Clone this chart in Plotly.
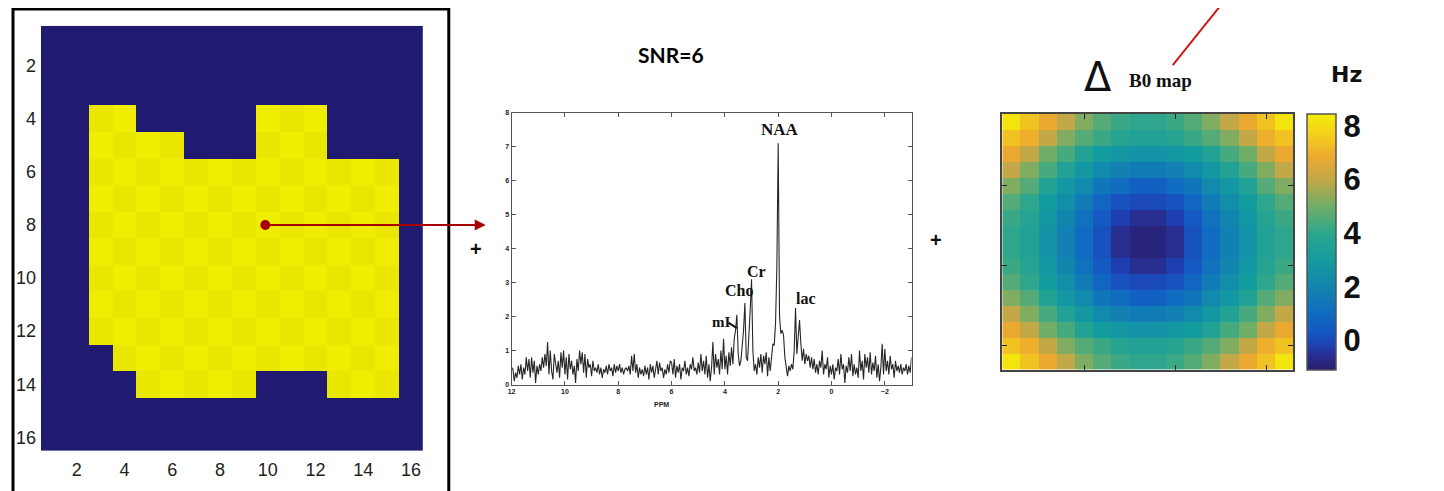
import numpy as np
import plotly.graph_objects as go

W, H = 1444, 491

# ---------------- Panel 1: voxel mask (16 x 16) ----------------
mask_rows = [
    "0000000000000000",
    "0000000000000000",
    "0000000000000000",
    "0011000001110000",
    "0011110001110000",
    "0011111111111110",
    "0011111111111110",
    "0011111111111110",
    "0011111111111110",
    "0011111111111110",
    "0011111111111110",
    "0011111111111110",
    "0001111111111110",
    "0000111110001110",
    "0000000000000000",
    "0000000000000000",
]
grid_ticks = [2, 4, 6, 8, 10, 12, 14, 16]
selected_voxel = (9.9, 8.0)   # (column, row)

# ---------------- Panel 2: spectrum (SNR = 6) ----------------
ppm_start, ppm_step = 12.0, -0.05
intensity = [
    # 12.00 .. 10.05
    0.5, 0.45, 0.1, 0.35, 0.2, 0.55, 0.3, 0.6, 0.15, 0.5,
    0.3, 0.8, 0.4, 0.75, 0.2, 0.8, 0.35, 0.7, 0.05, 0.55,
    0.3, 0.6, 0.4, 0.8, 0.5, 0.9, 0.55, 1.25, 0.3, 1.0,
    0.4, 0.15, 0.9, 0.6, 0.35, 0.7, 0.2, 0.95, 0.5, 1.0,
    # 10.00 .. 8.05
    0.3, 0.8, 0.15, 0.9, 0.45, 0.7, 0.3, 0.55, 0.05, 0.75,
    0.4, 1.0, 0.6, 0.95, 0.35, 0.9, 0.2, 0.75, 0.5, 0.6,
    0.25, 0.7, 0.4, 0.5, 0.35, 0.6, 0.3, 0.5, 0.2, 0.45,
    0.35, 0.55, 0.3, 0.6, 0.4, 0.5, 0.25, 0.6, 0.35, 0.55,
    # 8.00 .. 6.05
    0.4, 0.6, 0.35, 0.5, 0.3, 0.45, 0.5, 0.4, 0.55, 0.3,
    0.85, 0.4, 0.9, 0.35, 0.6, 0.2, 0.5, 0.3, 0.45, 0.25,
    0.55, 0.3, 0.5, 0.15, 0.6, 0.35, 0.55, 0.2, 0.5, 0.7,
    0.3, 0.65, 0.4, 0.5, 0.2, 0.45, 0.3, 0.6, 0.35, 0.7,
    # 6.00 .. 4.05
    0.65, 0.3, 0.75, 0.2, 0.55, 0.35, 0.6, 0.15, 0.5, 0.4,
    0.7, 0.3, 0.5, 0.25, 0.6, 0.45, 0.8, 0.4, 0.5, 0.3,
    0.65, 0.35, 0.9, 0.4, 0.7, 0.3, 0.85, 0.2, 0.6, 0.1,
    0.5, 1.25, 0.3, 0.9, 0.5, 0.75, 0.3, 1.0, 0.45, 1.35,
    # 4.00 .. 2.05
    0.45, 0.85, 0.3, 0.95, 0.55, 1.1, 0.6, 1.35, 1.6, 2.05,
    0.9, 0.55, 0.7, 1.2, 1.6, 2.4, 0.8, 0.7, 1.3, 2.2,
    3.1, 1.0, 0.4, 0.6, 0.3, 0.8, 0.5, 0.9, 0.35, 0.85,
    0.6, 0.95, 0.25, 0.8, 0.4, 0.9, 1.2, 1.15, 1.8, 3.5,
    # 2.00 .. 0.05
    7.1, 2.0, 1.5, 1.6, 1.45, 0.8, 0.5, 0.25, 0.55, 0.4,
    0.6, 0.45, 1.0, 2.25, 0.9, 1.4, 1.9, 1.2, 0.7, 1.05,
    0.6, 0.9, 0.7, 0.85, 0.5, 0.8, 0.45, 0.75, 0.35, 0.6,
    0.3, 0.7, 0.5, 1.0, 0.3, 0.6, 0.45, 0.8, 0.2, 0.55,
    # 0.00 .. -1.95
    0.3, 0.6, 0.15, 0.5, 0.4, 0.75, 0.3, 0.9, 0.45, 0.6,
    0.05, 0.55, 0.35, 0.8, 0.4, 0.9, 0.25, 0.6, 0.3, 0.5,
    0.2, 1.0, 0.4, 0.7, 0.15, 0.9, 0.5, 0.8, 0.35, 0.95,
    0.3, 0.65, 0.4, 0.85, 0.2, 0.6, 0.1, 0.5, 1.2, 0.3,
    # -2.00 .. -3.00
    1.05, 0.4, 0.7, 0.3, 0.85, 0.45, 0.6, 0.2, 0.7, 0.4,
    0.55, 0.35, 0.6, 0.3, 0.5, 0.4, 0.6, 0.3, 0.55, 0.35,
    0.8,
]
ppm = [round(ppm_start + ppm_step * i, 2) for i in range(len(intensity))]
ppm_ticks = [12, 10, 8, 6, 4, 2, 0, -2]
amp_ticks = [0, 1, 2, 3, 4, 5, 6, 7, 8]
peak_labels = ["NAA", "Cr", "Cho", "mI", "lac"]
peak_label_ppm = [1.93, 2.82, 3.46, 4.15, 0.95]
peak_label_amp = [7.5, 3.33, 2.78, 1.83, 2.52]
peak_label_size = [17, 16, 16, 15, 16]

# ---------------- Panel 3: delta B0 map (Hz) ----------------
b0_map = [
    [8.2, 7.4, 6.8, 6.0, 5.2, 4.6, 4.2, 4.0, 4.0, 4.2, 4.6, 5.2, 6.0, 6.8, 7.4, 8.2],
    [7.4, 7.0, 6.0, 5.2, 4.6, 4.2, 3.8, 3.6, 3.6, 3.8, 4.2, 4.6, 5.2, 6.0, 7.0, 7.4],
    [6.8, 6.0, 5.0, 4.4, 3.6, 3.0, 2.8, 2.6, 2.6, 2.8, 3.0, 3.6, 4.4, 5.0, 6.0, 6.8],
    [6.0, 5.2, 4.4, 3.6, 2.8, 2.2, 1.8, 1.6, 1.6, 1.8, 2.2, 2.8, 3.6, 4.4, 5.2, 6.0],
    [5.2, 4.6, 3.6, 2.8, 2.2, 1.4, 1.0, 0.6, 0.6, 1.0, 1.4, 2.2, 2.8, 3.6, 4.6, 5.2],
    [4.6, 4.0, 3.0, 2.4, 1.6, 0.8, 0.2, 0.0, 0.0, 0.2, 0.8, 1.6, 2.4, 3.0, 4.0, 4.6],
    [4.2, 3.8, 2.8, 2.0, 1.2, 0.4, -0.2, -0.6, -0.6, -0.2, 0.4, 1.2, 2.0, 2.8, 3.8, 4.2],
    [4.0, 3.6, 2.6, 1.8, 1.0, 0.2, -0.6, -0.9, -0.9, -0.6, 0.2, 1.0, 1.8, 2.6, 3.6, 4.0],
    [4.0, 3.6, 2.6, 1.8, 1.0, 0.2, -0.6, -0.9, -0.9, -0.6, 0.2, 1.0, 1.8, 2.6, 3.6, 4.0],
    [4.2, 3.8, 2.8, 2.0, 1.2, 0.4, -0.2, -0.6, -0.6, -0.2, 0.4, 1.2, 2.0, 2.8, 3.8, 4.2],
    [4.6, 4.0, 3.0, 2.4, 1.6, 0.8, 0.2, 0.0, 0.0, 0.2, 0.8, 1.6, 2.4, 3.0, 4.0, 4.6],
    [5.2, 4.6, 3.6, 2.8, 2.2, 1.4, 1.0, 0.6, 0.6, 1.0, 1.4, 2.2, 2.8, 3.6, 4.6, 5.2],
    [6.0, 5.2, 4.4, 3.6, 2.8, 2.2, 1.8, 1.6, 1.6, 1.8, 2.2, 2.8, 3.6, 4.4, 5.2, 6.0],
    [6.8, 6.0, 5.0, 4.4, 3.6, 3.0, 2.8, 2.6, 2.6, 2.8, 3.0, 3.6, 4.4, 5.0, 6.0, 6.8],
    [7.4, 7.0, 6.0, 5.2, 4.6, 4.2, 3.8, 3.6, 3.6, 3.8, 4.2, 4.6, 5.2, 6.0, 7.0, 7.4],
    [8.2, 7.4, 6.8, 6.0, 5.2, 4.6, 4.2, 4.0, 4.0, 4.2, 4.6, 5.2, 6.0, 6.8, 7.4, 8.2],
]
b0_ticks = [0, 2, 4, 6, 8]
b0_grid_ticks = [5, 10, 15]

# ---------------- helpers ----------------
# page offset of the figure inside the browser window (body margin)
OX, OY = 9, 9

def px(x):
    return (x - OX) / W

def py(y):
    return 1 - (y - OY) / H

SANS = "Liberation Sans, Arial, sans-serif"
SERIF = "Liberation Serif, Times New Roman, serif"

parula_like = [
    [0.00, "#2a1e6e"], [0.05, "#282c8e"], [0.10, "#1e42b4"], [0.15, "#1458c2"],
    [0.22, "#106cc0"], [0.32, "#1284b0"], [0.43, "#139c9e"], [0.53, "#2aa68e"],
    [0.64, "#70ae68"], [0.74, "#c0a848"], [0.83, "#eca830"], [0.90, "#f2c820"],
    [1.00, "#f5ee08"],
]

fig = go.Figure()

# Panel 1 heatmap (mask) with subtle checker shading of the voxels
n = len(mask_rows)
mask_z = []
for r, row in enumerate(mask_rows):
    zr = []
    for c, ch in enumerate(row):
        v = int(ch)
        if v and (r + c) % 2 == 1:
            v = 2
        zr.append(v)
    mask_z.append(zr)
idx = list(range(1, n + 1))
fig.add_trace(go.Heatmap(
    z=mask_z, x=idx, y=idx, xaxis="x", yaxis="y",
    zmin=0, zmax=2, showscale=False, hoverinfo="skip",
    colorscale=[[0, "#201b71"], [0.25, "#201b71"], [0.25, "#f0ee00"],
                [0.75, "#f0ee00"], [0.75, "#e9e600"], [1, "#e9e600"]],
))
fig.add_trace(go.Scatter(
    x=[selected_voxel[0]], y=[selected_voxel[1]], xaxis="x", yaxis="y",
    mode="markers", marker=dict(size=10, color="#a80000"), hoverinfo="skip",
))

# Panel 2 spectrum
fig.add_trace(go.Scatter(
    x=ppm, y=intensity, xaxis="x2", yaxis="y2", mode="lines",
    line=dict(color="#262626", width=1.1), hoverinfo="skip",
))

# Panel 3 B0 map
fig.add_trace(go.Heatmap(
    z=b0_map, x=idx, y=idx, xaxis="x3", yaxis="y3",
    zmin=-1.1, zmax=8.45, colorscale=parula_like, hoverinfo="skip",
    colorbar=dict(
        x=px(1308), xanchor="left", y=py(372), yanchor="bottom",
        len=260 / H, lenmode="fraction", thickness=29, thicknessmode="pixels",
        xpad=0, ypad=0, outlinewidth=1.5, outlinecolor="#555555",
        tickvals=b0_ticks, ticks="",
        tickfont=dict(family=SANS, size=31, color="#111111", weight="bold"),
    ),
))

axis_common = dict(showgrid=False, zeroline=False)
fig.update_layout(
    width=W, height=H, margin=dict(l=0, r=0, t=0, b=0),
    paper_bgcolor="white", plot_bgcolor="white", showlegend=False,
    xaxis=dict(**axis_common, domain=[px(38), px(421)], range=[0.5, 16.5],
               tickvals=grid_ticks, ticks="", anchor="y", ticklabelstandoff=6,
               tickfont=dict(family=SANS, size=18, color="#222222")),
    yaxis=dict(**axis_common, domain=[py(454), py(23)], range=[16.5, 0.5],
               tickvals=grid_ticks, ticks="", anchor="x", ticklabelstandoff=4,
               tickfont=dict(family=SANS, size=18, color="#222222")),
    xaxis2=dict(**axis_common, domain=[px(510), px(911)], range=[12, -3],
                tickvals=ppm_ticks, ticks="inside", ticklen=4, tickcolor="#555",
                showline=True, linecolor="#555555", linewidth=1, mirror="ticks",
                anchor="y2",
                tickfont=dict(family=SANS, size=7, color="#222", weight="bold")),
    yaxis2=dict(**axis_common, domain=[py(387), py(111)], range=[0, 8],
                tickvals=amp_ticks, ticks="inside", ticklen=4, tickcolor="#555",
                showline=True, linecolor="#555555", linewidth=1, mirror="ticks",
                anchor="x2",
                tickfont=dict(family=SANS, size=7, color="#222", weight="bold")),
    xaxis3=dict(**axis_common, domain=[px(1002), px(1294)], range=[0.5, 16.5],
                tickvals=b0_grid_ticks, ticks="inside", ticklen=5, tickcolor="#222",
                showticklabels=False, showline=True, linecolor="#444444",
                linewidth=2, mirror="ticks", anchor="y3"),
    yaxis3=dict(**axis_common, domain=[py(372), py(112)], range=[16.5, 0.5],
                tickvals=b0_grid_ticks, ticks="inside", ticklen=5, tickcolor="#222",
                showticklabels=False, showline=True, linecolor="#444444",
                linewidth=2, mirror="ticks", anchor="x3"),
)

shapes = [
    # frame around panel 1
    dict(type="rect", xref="paper", yref="paper", x0=px(10), x1=px(447),
         y0=py(505), y1=py(6), line=dict(color="black", width=3)),
    # red pointer line to the B0 map title
    dict(type="line", xref="paper", yref="paper", x0=px(1173), y0=py(63),
         x1=px(1226), y1=py(-4), line=dict(color="#d01818", width=2)),
    # mI pointer
    dict(type="line", xref="x2", yref="y2", x0=3.87, y0=1.82, x1=3.55, y1=1.66,
         line=dict(color="#111", width=2)),
]
fig.update_layout(shapes=shapes)

def label(x, y, text, font, xref="paper", yref="paper"):
    return dict(xref=xref, yref=yref, x=x, y=y, text=text, showarrow=False,
                xanchor="center", yanchor="middle", font=font)

ann = []
# arrow from voxel to spectrum
ann.append(dict(xref="paper", yref="paper", x=px(484), y=py(225),
                ax=-(484 - 262), ay=0, showarrow=True, arrowhead=2,
                arrowsize=1.1, arrowwidth=2, arrowcolor="#a80000", text=""))
for t, xv, yv, s in zip(peak_labels, peak_label_ppm, peak_label_amp, peak_label_size):
    ann.append(label(xv, yv, t, dict(family=SERIF, size=s, color="#111", weight="bold"),
                     xref="x2", yref="y2"))
ann += [
    label(px(660), py(407), "PPM", dict(family=SANS, size=7, color="#222", weight="bold")),
    label(px(670), py(52), "SNR=6", dict(family="Lato, Liberation Sans, sans-serif",
                                          size=21, color="#000", weight="bold")),
    label(px(474), py(249), "+", dict(family=SANS, size=20, color="#111", weight="bold")),
    label(px(936), py(240), "+", dict(family=SANS, size=20, color="#111", weight="bold")),
    label(px(1098), py(75), "Δ", dict(family="DejaVu Sans, sans-serif", size=40,
                                       color="#111", weight="normal")),
    label(px(1161), py(78), "B0 map", dict(family=SERIF, size=19, color="#111",
                                            weight="bold")),
    label(px(1347), py(72), "Hz", dict(family="DejaVu Sans, sans-serif", size=22,
                                        color="#111", weight="bold")),
]
fig.update_layout(annotations=ann)

fig.write_html("out.html")
